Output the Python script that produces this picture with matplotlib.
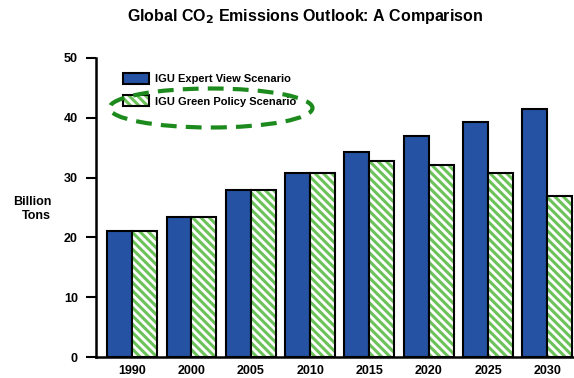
import numpy as np
import matplotlib.pyplot as plt
from matplotlib.patches import Ellipse

anos = ['1990', '2000', '2005', '2010', '2015', '2020', '2025', '2030']
expert = [21.1, 23.4, 27.9, 30.8, 34.3, 36.9, 39.3, 41.5]
green = [21.1, 23.4, 27.9, 30.8, 32.8, 32.1, 30.8, 27.0]

cor_azul = '#2552a3'
cor_verde = '#6cc35a'

plt.rcParams['font.family'] = ['Liberation Sans', 'DejaVu Sans']
plt.rcParams['font.weight'] = 'bold'
plt.rcParams['hatch.linewidth'] = 2.2

fig = plt.figure(figsize=(5.74, 3.78), dpi=100)
ax = fig.add_axes([96 / 574, 1 - 357 / 378, 478 / 574, 299 / 378])

x = np.arange(len(anos))
largura = 0.42
b_azul = ax.bar(x - largura / 2, expert, largura, color=cor_azul,
                edgecolor='black', linewidth=1.5)
# listras verdes primeiro, contorno preto por cima
b_listras = ax.bar(x + largura / 2, green, largura, color='white',
                   edgecolor=cor_verde, hatch='\\\\\\\\', linewidth=0)
b_contorno = ax.bar(x + largura / 2, green, largura, fill=False,
                    edgecolor='black', linewidth=1.5)

ax.set_xlim(-0.61, 7.45)
ax.set_ylim(0, 50)
ax.set_yticks([0, 10, 20, 30, 40, 50])
ax.set_xticks(x)
ax.set_xticklabels(anos)
ax.tick_params(axis='y', length=7, width=1.5, pad=6, labelsize=9)
ax.tick_params(axis='x', length=0, pad=5.5, labelsize=9)
for lado in ['top', 'right']:
    ax.spines[lado].set_visible(False)
for lado in ['left', 'bottom']:
    ax.spines[lado].set_linewidth(1.8)

ax.legend([b_azul, (b_listras, b_contorno)],
          ['IGU Expert View Scenario', 'IGU Green Policy Scenario'],
          loc='upper left', bbox_to_anchor=(0.056, 0.95), frameon=False,
          borderpad=0, borderaxespad=0, fontsize=8, handlelength=2.35,
          handleheight=1.15, labelspacing=1.0, handletextpad=0.55)

fig.text(305 / 574, 1 - 17 / 378, 'Global CO$_\\mathbf{2}$ Emissions Outlook: A Comparison',
         ha='center', va='center', fontsize=11.5, fontweight='bold')
fig.text(51 / 574, 1 - 209 / 378, 'Billion\nTons', ha='right', va='center',
         multialignment='right', fontsize=9, fontweight='bold')

elipse = Ellipse((211 / 574, 1 - 108 / 378), 203 / 574, 39 / 378,
                 transform=fig.transFigure, fill=False, edgecolor='#1d8a1d',
                 linewidth=3, linestyle=(0, (3.8, 2.2)), clip_on=False)
fig.add_artist(elipse)

fig.savefig('out.png', dpi=100)
